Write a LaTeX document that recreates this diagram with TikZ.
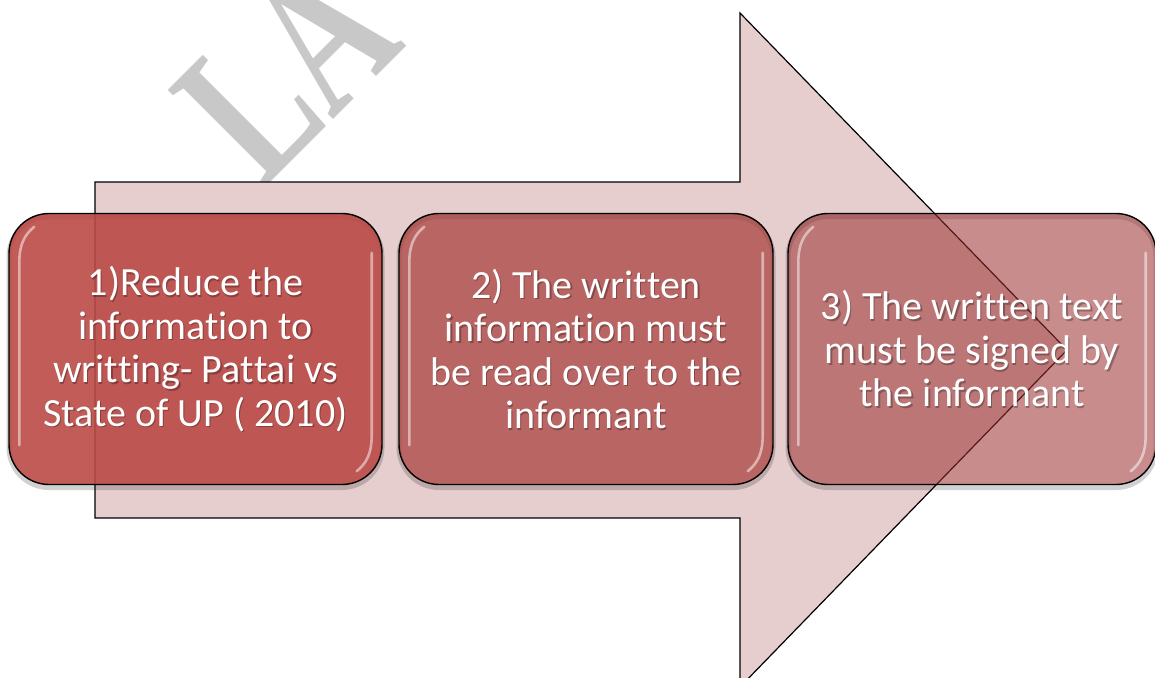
\documentclass[tikz,border=0pt]{standalone}
\usepackage{graphicx}
\usepackage{fontspec}
\setmainfont{Carlito}[Ligatures={NoCommon,NoRequired,NoContextual}]
\newfontfamily\wmfont{Liberation Serif}
\newcommand\nolig{\kern0pt }
\definecolor{arrowfill}{RGB}{230,206,207}
\definecolor{boxa}{RGB}{186,74,70}
\definecolor{boxb}{RGB}{170,67,64}
\definecolor{boxc}{RGB}{155,46,46}
\definecolor{wmgray}{RGB}{200,200,200}
\begin{document}
\begin{tikzpicture}[x=1pt,y=-1pt,
  wm/.style={text=wmgray,font=\wmfont\bfseries\fontsize{210}{210}\selectfont,inner sep=0pt},
  bigarrow/.style={fill=arrowfill,draw=black,line width=1.2pt,line join=miter},
  stepbox/.style={rounded corners=40pt,draw=black,line width=1.4pt,minimum height=271pt,inner sep=0pt},
  boxshadow/.style={rounded corners=40pt,draw=black,draw opacity=0.18,line width=5pt,minimum height=271pt,inner sep=0pt},
  gloss/.style={draw=white,line width=2.6pt,line cap=round,opacity=0.5},
  steptext/.style={text=white,align=center,font=\fontsize{40}{43.5}\selectfont,inner sep=0pt},
  textshadow/.style={text=black,opacity=0.28,align=center,font=\fontsize{40}{43.5}\selectfont,inner sep=0pt}]
\useasboundingbox (0,0) rectangle (1155,677);

% faint watermark lettering behind the arrow (condensed serif capitals)
\node[wm,rotate=45,anchor=base west] (mark) at (263,190) {\scalebox{0.7}[1]{LA}};

% large process arrow
\draw[bigarrow] (95,182) -- (740,182) -- (740,13) -- (1067,350) -- (740,687) -- (740,518) -- (95,518) -- cycle;

% soft shadows under the boxes
\node[boxshadow,minimum width=373pt] (s1) at (195.5,352) {};
\node[boxshadow,minimum width=374pt] (s2) at (586,352) {};
\node[boxshadow,minimum width=368pt] (s3) at (972,352) {};

% the three steps
\node[stepbox,fill=boxa,fill opacity=0.9,minimum width=373pt] (b1) at (195.5,349) {};
\node[stepbox,fill=boxb,fill opacity=0.75,minimum width=374pt] (b2) at (586,349) {};
\node[stepbox,fill=boxc,fill opacity=0.55,minimum width=368pt] (b3) at (972,349) {};

% glossy edge highlights
\foreach \b in {b1,b2,b3}{
  \draw[gloss] ([xshift=26pt,yshift=-14pt]\b.north west) .. controls ([xshift=16pt,yshift=-22pt]\b.north west) and ([xshift=11pt,yshift=-32pt]\b.north west) .. ([xshift=11pt,yshift=-50pt]\b.north west) -- ([xshift=11pt,yshift=40pt]\b.south west);
  \draw[gloss] ([xshift=-11pt,yshift=-40pt]\b.north east) -- ([xshift=-11pt,yshift=50pt]\b.south east) .. controls ([xshift=-11pt,yshift=32pt]\b.south east) and ([xshift=-16pt,yshift=22pt]\b.south east) .. ([xshift=-26pt,yshift=14pt]\b.south east);
}

% labels with a light drop shadow (\nolig keeps the letters t, t, i apart)
\newcommand\labone{1)Reduce the\\informat\nolig ion to\\writ\nolig t\nolig ing- Pat\nolig tai vs\\State of UP ( 2010)}
\newcommand\labtwo{2) The writ\nolig ten\\informat\nolig ion must\\be read over to the\\informant}
\newcommand\labthree{3) The writ\nolig ten text\\must be signed by\\the informant}
\node[textshadow] (t1s) at ([xshift=1.2pt,yshift=-1.6pt]b1.center) {\labone};
\node[steptext] (t1) at (b1.center) {\labone};
\node[textshadow] (t2s) at ([xshift=1.2pt,yshift=-1.6pt]b2.center) {\labtwo};
\node[steptext] (t2) at (b2.center) {\labtwo};
\node[textshadow] (t3s) at ([xshift=1.2pt,yshift=-1.6pt]b3.center) {\labthree};
\node[steptext] (t3) at (b3.center) {\labthree};
\end{tikzpicture}
\end{document}
